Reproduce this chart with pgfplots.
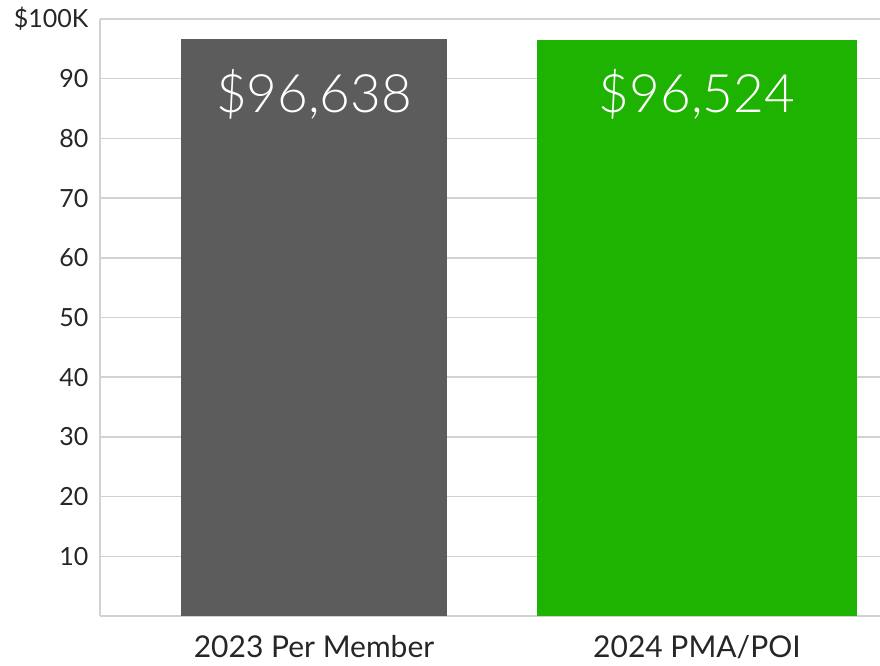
\documentclass[border=0pt]{standalone}
\usepackage{pgfplots}
\pgfplotsset{compat=1.18}
\usepackage{fontspec}
\setmainfont{Lato}
\newfontfamily\lightfont{Lato Light}
\definecolor{barGray}{HTML}{5C5C5C}
\definecolor{barGreen}{HTML}{1EB300}
\definecolor{gridGray}{HTML}{D2D2D2}
\begin{document}
\begin{tikzpicture}
\begin{axis}[
  at={(0pt,0pt)}, anchor=south west,
  scale only axis, width=780pt, height=597pt,
  xmin=-0.559, xmax=1.478, ymin=0, ymax=100,
  axis x line=none,
  axis y line=left,
  y axis line style={gridGray, line width=1.5pt, -},
  ytick={0,10,20,30,40,50,60,70,80,90,100},
  yticklabels={,10,20,30,40,50,60,70,80,90,\$100K},
  major tick length=0pt,
  ymajorgrids, grid style={gridGray, line width=1.5pt},
  yticklabel style={font=\fontsize{25}{28}\selectfont, text=black!85, xshift=-8pt},
  /pgf/number format/assume math mode=true,
  clip=false,
]
\addplot[ybar, bar width=0.695, fill=barGray, draw=none, bar shift=0] coordinates {(0,96.638)};
\addplot[ybar, bar width=0.836, fill=barGreen, draw=none, bar shift=0] coordinates {(1,96.524)};
\node[text=white, font=\lightfont\fontsize{53}{60}\selectfont] at (axis cs:0,87.3) {\$96,638};
\node[text=white, font=\lightfont\fontsize{53}{60}\selectfont] at (axis cs:1,87.3) {\$96,524};
\node[text=black!85, font=\fontsize{30}{34}\selectfont, anchor=base] at (axis cs:0,-7.0) {2023 Per Member};
\node[text=black!85, font=\fontsize{30}{34}\selectfont, anchor=base] at (axis cs:1,-7.0) {2024 PMA/POI};
\end{axis}
\pgfresetboundingbox
\path[use as bounding box] (-100pt,-50pt) rectangle (780pt,616pt);
\end{tikzpicture}
\end{document}
